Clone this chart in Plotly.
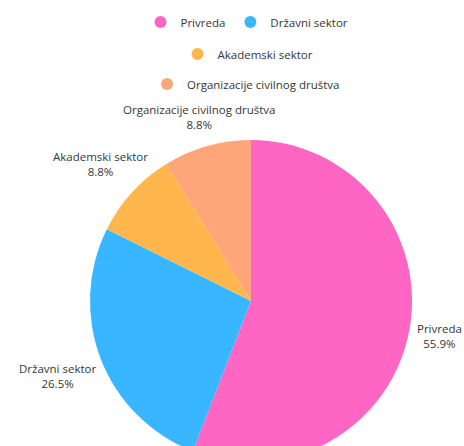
import math
import plotly.graph_objects as go

categories = ["Privreda", "Državni sektor", "Akademski sektor", "Organizacije civilnog društva"]
counts = [19, 9, 3, 3]
colors = ["#FF66C4", "#38B6FF", "#FFB64D", "#FFA57A"]

W, H = 464, 470
FONT = "Open Sans, Liberation Sans, Arial, sans-serif"
FS = 11.5
TXT = "#363636"

# pie box (pixels) -> paper domain
px_l, px_r, px_t = 90, 412, 140
R = (px_r - px_l) / 2
cx, cy = (px_l + px_r) / 2, px_t + R

fig = go.Figure()
fig.add_trace(go.Pie(
    labels=categories, values=counts, sort=False, direction="clockwise", rotation=0,
    marker=dict(colors=colors, line=dict(width=0)),
    textinfo="none", showlegend=False, hoverinfo="label+percent",
    domain=dict(x=[px_l / W, px_r / W], y=[(H - (px_t + 2 * R)) / H, (H - px_t) / H]),
))

# outside labels placed along each slice's mid-angle
total = sum(counts)
cum = 0
for lab, v in zip(categories, counts):
    mid = (cum + v / 2) / total
    cum += v
    th = 2 * math.pi * mid
    s, c = math.sin(th), math.cos(th)
    pct = 100 * v / total
    hw = 0.25 * FS * max(len(lab), 5)
    d = R + 8 + hw * abs(s)
    x_px = cx + d * s
    y_px = cy - d * c
    fig.add_annotation(
        x=x_px / W, y=1 - y_px / H, xref="paper", yref="paper",
        text=f"{lab}<br>{pct:.1f}%", showarrow=False,
        xanchor="center", yanchor="middle", align="center",
        font=dict(family=FONT, size=FS, color=TXT),
    )

legend_names = ["legend", "legend", "legend2", "legend3"]
for name, col, lg in zip(categories, colors, legend_names):
    fig.add_trace(go.Scatter(
        x=[None], y=[None], mode="markers", name=name, legend=lg,
        marker=dict(symbol="circle", size=12, color=col),
        hoverinfo="skip",
    ))

lfont = dict(family=FONT, size=FS, color=TXT)
common = dict(orientation="h", xanchor="center", yanchor="middle", font=lfont,
              bgcolor="rgba(0,0,0,0)", itemclick=False, itemdoubleclick=False)
fig.update_layout(
    width=W, height=H,
    margin=dict(l=0, r=0, t=0, b=0),
    paper_bgcolor="white", plot_bgcolor="white",
    xaxis=dict(visible=False), yaxis=dict(visible=False),
    legend=dict(x=247 / W, y=1 - 22 / H, **common),
    legend2=dict(x=248 / W, y=1 - 54 / H, **common),
    legend3=dict(x=246 / W, y=1 - 84 / H, **common),
)

fig.write_html("out.html", config={"displayModeBar": False},
               post_script="document.body.style.margin='0';document.body.style.overflow='hidden';")
